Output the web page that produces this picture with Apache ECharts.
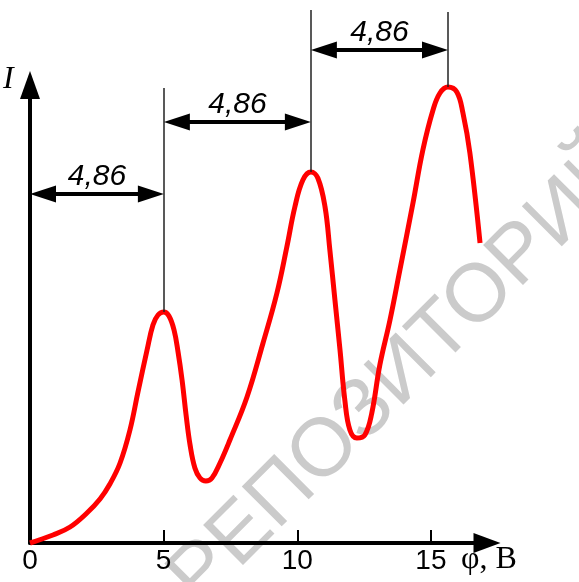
<!DOCTYPE html>
<html>
<head>
<meta charset="utf-8">
<script src="https://cdn.jsdelivr.net/npm/echarts@6/dist/echarts.min.js"></script>
<style>
  html, body { margin: 0; padding: 0; background: #fff; }
  #chart { width: 579px; height: 582px; }
</style>
</head>
<body>
<div id="chart"></div>
<script>
// Franck-Hertz curve
const phi = [0, 0.86, 1.50, 2.13, 2.62, 2.99, 3.37, 3.74, 4.04, 4.38, 4.60, 4.79, 5.01, 5.20, 5.39, 5.54, 5.69, 5.84, 5.99, 6.17, 6.36, 6.58, 6.81, 7.11, 7.48, 8.12, 8.72, 9.24, 9.61, 9.91, 10.21, 10.51, 10.77, 11.04, 11.22, 11.41, 11.60, 11.78, 11.97, 12.23, 12.53, 12.79, 13.09, 13.47, 13.84, 14.33, 14.70, 15.08, 15.34, 15.64, 15.97, 16.20, 16.46, 16.84];
const current = [0, 0.8, 1.6, 3.0, 4.4, 5.9, 8.0, 11.3, 15.1, 19.3, 21.8, 22.8, 23.1, 22.7, 21.3, 19.1, 16.3, 12.8, 9.8, 7.5, 6.5, 6.2, 6.5, 8.0, 10.3, 14.6, 20.0, 25.0, 29.6, 33.6, 36.3, 37.1, 36.5, 33.6, 29.3, 24.3, 19.3, 14.3, 11.3, 10.5, 10.8, 13.0, 17.8, 22.3, 27.3, 34.0, 39.3, 43.3, 45.0, 45.6, 45.1, 43.0, 39.0, 30.0];

// peaks and dimension marks
const peakX = [5.01, 10.51, 15.64];
const peakY = [23.1, 37.1, 45.6];
const guideTop = [45.5, 53.3, 53.1];
const dimStart = [0, 5.01, 10.51];
const dimLevel = [34.9, 42.1, 49.3];
const dimLabels = ['4,86', '4,86', '4,86'];

const xTicks = [5, 10, 15];
const xLabels = [0, 5, 10, 15];

const W = 579, H = 582;
const gridLeft = 30, gridRight = 92, gridBottom = 39;
const xMax = 17.1;
const arrowLen = 26;
const inset = (arrowLen / 2) / ((W - gridLeft - gridRight) / xMax);

const chart = echarts.init(document.getElementById('chart'));

const marks = [];
// vertical guides from each peak
peakX.forEach((x, i) => {
  marks.push([
    { coord: [x, guideTop[i]], symbol: 'none', lineStyle: { width: 1.5, color: '#222', type: 'solid' }, label: { show: false } },
    { coord: [x, peakY[i]], symbol: 'none' }
  ]);
});
// double arrows between peaks
dimStart.forEach((x0, i) => {
  marks.push([
    {
      coord: [x0 + inset, dimLevel[i]],
      lineStyle: { width: 4, color: '#000', type: 'solid' },
      label: {
        show: true, position: 'middle', formatter: dimLabels[i],
        fontFamily: 'Liberation Sans', fontStyle: 'italic', fontSize: 30, color: '#000', distance: 2
      }
    },
    { coord: [peakX[i] - inset, dimLevel[i]] }
  ]);
});

const option = {
  animation: false,
  grid: [
    { left: gridLeft, top: 85, right: gridRight, bottom: gridBottom },
    { left: gridLeft, top: 0, right: gridRight, bottom: gridBottom }
  ],
  xAxis: [
    {
      type: 'value',
      gridIndex: 0,
      min: 0,
      max: xMax,
      interval: 5,
      splitLine: { show: false },
      axisLine: {
        lineStyle: { color: '#000', width: 4 },
        symbol: ['none', 'triangle'],
        symbolSize: [20, 27]
      },
      axisTick: {
        show: true, inside: true, length: 13,
        lineStyle: { color: '#000', width: 2 },
        customValues: xTicks
      },
      axisLabel: {
        customValues: xLabels,
        fontFamily: 'Liberation Sans', fontSize: 28, color: '#000', margin: 4
      }
    },
    { type: 'value', gridIndex: 1, min: 0, max: xMax, show: false }
  ],
  yAxis: [
    {
      type: 'value',
      gridIndex: 0,
      min: 0,
      max: 45.8,
      splitLine: { show: false },
      axisTick: { show: false },
      axisLabel: { show: false },
      axisLine: {
        show: true,
        lineStyle: { color: '#000', width: 4 },
        symbol: ['none', 'triangle'],
        symbolSize: [20, 28]
      }
    },
    // same scale as the visible axis, but reaching the top of the page
    { type: 'value', gridIndex: 1, min: 0, max: 54.3, show: false }
  ],
  graphic: [
    {
      type: 'text', x: 404, y: 372, rotation: Math.PI / 4, z: 0, silent: true,
      style: {
        text: 'РЕПОЗИТОРИЙ', font: '82px "Liberation Sans"', fill: '#cbcbcb',
        align: 'center', verticalAlign: 'middle', textAlign: 'center', textVerticalAlign: 'middle'
      }
    },
    {
      type: 'text', left: 3, top: 64,
      style: { text: 'I', font: 'italic 32px "Liberation Serif"', fill: '#000' }
    },
    {
      type: 'text', left: 461, top: 544,
      style: { text: 'φ, B', font: '32px "Liberation Serif"', fill: '#000' }
    }
  ],
  series: [
    {
      type: 'line',
      xAxisIndex: 1,
      yAxisIndex: 1,
      data: phi.map((x, i) => [x, current[i]]),
      smooth: 0.4,
      showSymbol: false,
      clip: false,
      z: 3,
      lineStyle: { color: '#ff0000', width: 5 },
      markLine: {
        silent: true,
        animation: false,
        symbol: ['triangle', 'triangle'],
        symbolSize: [17, arrowLen],
        data: marks
      }
    }
  ]
};

chart.setOption(option);
</script>
</body>
</html>
